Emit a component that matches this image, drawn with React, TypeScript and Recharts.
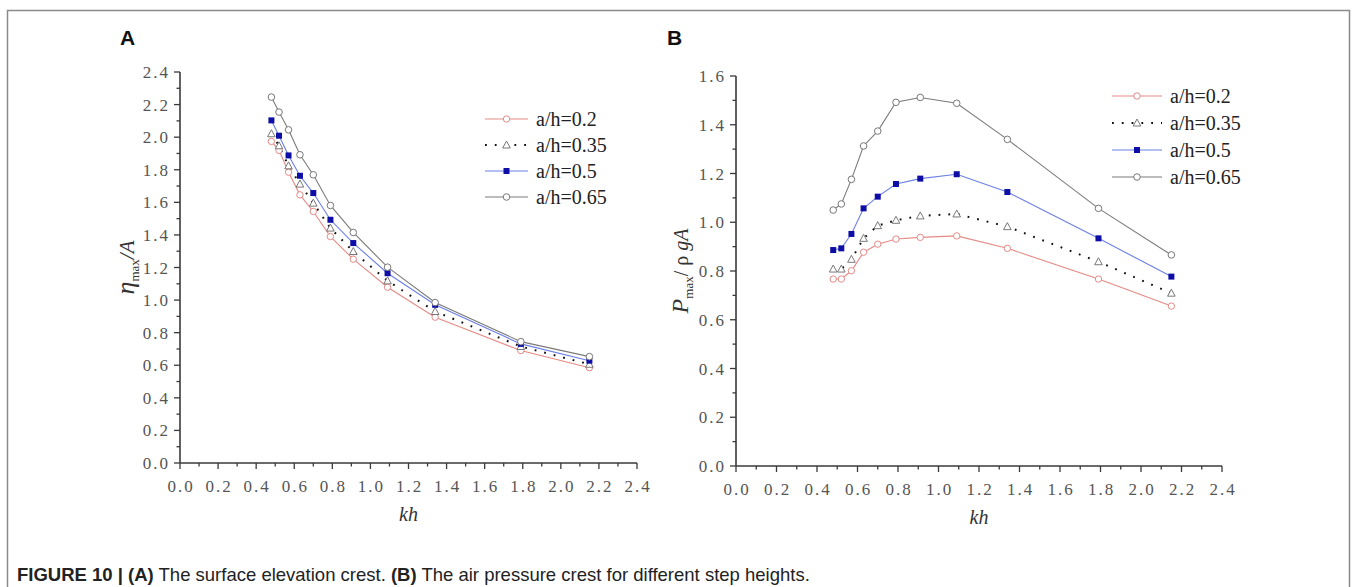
import React from 'react';
import { LineChart, Line, XAxis, YAxis } from 'recharts';

// kh values shared by both panels
const kh = [0.48, 0.52, 0.57, 0.63, 0.7, 0.79, 0.91, 1.09, 1.34, 1.79, 2.15];

// (A) eta_max / A
const etaH020 = [1.974, 1.919, 1.785, 1.646, 1.544, 1.39, 1.251, 1.079, 0.895, 0.69, 0.585];
const etaH035 = [2.021, 1.947, 1.824, 1.712, 1.595, 1.442, 1.298, 1.118, 0.93, 0.715, 0.606];
const etaH050 = [2.103, 2.009, 1.888, 1.763, 1.657, 1.493, 1.35, 1.165, 0.971, 0.731, 0.628];
const etaH065 = [2.246, 2.154, 2.045, 1.892, 1.769, 1.581, 1.415, 1.202, 0.985, 0.745, 0.653];

// (B) P_max / rho g A
const presH020 = [0.767, 0.767, 0.801, 0.877, 0.91, 0.931, 0.938, 0.944, 0.893, 0.767, 0.656];
const presH035 = [0.808, 0.808, 0.848, 0.934, 0.986, 1.008, 1.026, 1.034, 0.982, 0.838, 0.709];
const presH050 = [0.886, 0.893, 0.952, 1.057, 1.105, 1.157, 1.179, 1.197, 1.124, 0.934, 0.777];
const presH065 = [1.05, 1.075, 1.176, 1.313, 1.374, 1.492, 1.512, 1.488, 1.34, 1.057, 0.866];

const seriesNames = ['a/h=0.2', 'a/h=0.35', 'a/h=0.5', 'a/h=0.65'];
const seriesKeys = ['h020', 'h035', 'h050', 'h065'];

const xTicks = [0, 0.1, 0.2, 0.3, 0.4, 0.5, 0.6, 0.7, 0.8, 0.9, 1.0, 1.1, 1.2, 1.3, 1.4, 1.5, 1.6, 1.7, 1.8, 1.9, 2.0, 2.1, 2.2, 2.3, 2.4];
const yTicksA = [0, 0.1, 0.2, 0.3, 0.4, 0.5, 0.6, 0.7, 0.8, 0.9, 1.0, 1.1, 1.2, 1.3, 1.4, 1.5, 1.6, 1.7, 1.8, 1.9, 2.0, 2.1, 2.2, 2.3, 2.4];
const yTicksB = [0, 0.1, 0.2, 0.3, 0.4, 0.5, 0.6, 0.7, 0.8, 0.9, 1.0, 1.1, 1.2, 1.3, 1.4, 1.5, 1.6];

const etaRows = kh.map((k, i) => ({ kh: k, h020: etaH020[i], h035: etaH035[i], h050: etaH050[i], h065: etaH065[i] }));
const presRows = kh.map((k, i) => ({ kh: k, h020: presH020[i], h035: presH035[i], h050: presH050[i], h065: presH065[i] }));

const SERIF = '"Liberation Serif", "DejaVu Serif", serif';
const SANS = '"Liberation Sans", Arial, sans-serif';
const AXIS = '#3a3a3a';
const TICK_TEXT = '#555';

const lineStyles = [
  { stroke: '#e58a86', dash: undefined, width: 1.1 },
  { stroke: '#111', dash: '1.8 8', width: 2 },
  { stroke: '#6b7fe6', dash: undefined, width: 1.1 },
  { stroke: '#7b7b7b', dash: undefined, width: 1.1 },
];

function Marker({ kind, cx, cy }: { kind: number; cx: number; cy: number }) {
  if (kind === 0) return <circle cx={cx} cy={cy} r={3.2} fill="#fff" stroke="#e58a86" strokeWidth={1} />;
  if (kind === 1)
    return (
      <polygon
        points={`${cx},${cy - 4} ${cx - 3.8},${cy + 3} ${cx + 3.8},${cy + 3}`}
        fill="#fff"
        stroke="#6a6a6a"
        strokeWidth={0.9}
      />
    );
  if (kind === 2) return <rect x={cx - 3} y={cy - 3} width={6} height={6} fill="#0e0ea6" />;
  return <circle cx={cx} cy={cy} r={3.3} fill="#fff" stroke="#777" strokeWidth={1} />;
}

const dotFor = (kind: number) => (p: any) => (
  <g key={`d-${kind}-${p.index}`}>
    <Marker kind={kind} cx={p.cx} cy={p.cy} />
  </g>
);

const isMajor = (v: number) => Math.round(v * 10) % 2 === 0;

function XTick(props: any) {
  const { x, y, payload } = props;
  const major = isMajor(payload.value);
  return (
    <g>
      <line x1={x} y1={y} x2={x} y2={y + (major ? 6 : 3.5)} stroke={AXIS} strokeWidth={1.3} />
      {major && (
        <text x={x + 1} y={y + 29} textAnchor="middle" fontFamily={SERIF} fontSize={17} fill={TICK_TEXT} letterSpacing={2}>
          {payload.value.toFixed(1)}
        </text>
      )}
    </g>
  );
}

function YTick(props: any) {
  const { x, y, payload } = props;
  const major = isMajor(payload.value);
  return (
    <g>
      <line x1={x} y1={y} x2={x - (major ? 6 : 3.5)} y2={y} stroke={AXIS} strokeWidth={1.3} />
      {major && (
        <text x={x - 10} y={y + 6} textAnchor="end" fontFamily={SERIF} fontSize={17} fill={TICK_TEXT} letterSpacing={2}>
          {payload.value.toFixed(1)}
        </text>
      )}
    </g>
  );
}

function KhLabel(props: any) {
  const vb = props.viewBox;
  return (
    <text x={vb.x + vb.width / 2} y={vb.y + 58} textAnchor="middle" fontFamily={SERIF} fontStyle="italic" fontSize={20} fill="#333">
      kh
    </text>
  );
}

function EtaLabel(props: any) {
  const vb = props.viewBox;
  const cx = vb.x + vb.width - 54;
  const cy = vb.y + vb.height / 2;
  return (
    <text transform={`translate(${cx},${cy}) rotate(-90)`} textAnchor="middle" fontFamily={SERIF} fill="#333" dy={8}>
      <tspan fontStyle="italic" fontSize={26}>η</tspan>
      <tspan fontSize={13} dy={5}>max</tspan>
      <tspan fontStyle="italic" fontSize={21} dy={-5}>/A</tspan>
    </text>
  );
}

function PresLabel(props: any) {
  const vb = props.viewBox;
  const cx = vb.x + vb.width - 56;
  const cy = vb.y + vb.height / 2;
  return (
    <text transform={`translate(${cx},${cy}) rotate(-90)`} textAnchor="middle" fontFamily={SERIF} fill="#333" dy={8}>
      <tspan fontStyle="italic" fontSize={24}>P</tspan>
      <tspan fontSize={13} dy={5}>max</tspan>
      <tspan fontSize={20} dy={-5}>/ ρ </tspan>
      <tspan fontStyle="italic" fontSize={20}>gA</tspan>
    </text>
  );
}

function Panel({ rows, yMax, yTicks, yLabel, left, width, margin }: any) {
  return (
    <div style={{ position: 'absolute', left, top: 0 }}>
      <LineChart width={width} height={587} data={rows} margin={margin}>
        <XAxis
          type="number"
          dataKey="kh"
          domain={[0, 2.4]}
          ticks={xTicks}
          interval={0}
          tickSize={0}
          tickMargin={0}
          tickLine={false}
          height={80}
          axisLine={{ stroke: AXIS, strokeWidth: 1.6 }}
          tick={(p: any) => <XTick {...p} />}
          label={{ content: KhLabel }}
        />
        <YAxis
          type="number"
          domain={[0, yMax]}
          ticks={yTicks}
          interval={0}
          tickSize={0}
          tickMargin={0}
          tickLine={false}
          width={80}
          axisLine={{ stroke: AXIS, strokeWidth: 1.6 }}
          tick={(p: any) => <YTick {...p} />}
          label={{ content: yLabel }}
        />
        {seriesKeys.map((k, i) => (
          <Line
            key={k}
            type="linear"
            dataKey={k}
            name={seriesNames[i]}
            stroke={lineStyles[i].stroke}
            strokeWidth={lineStyles[i].width}
            strokeDasharray={lineStyles[i].dash}
            dot={dotFor(i)}
            activeDot={false}
            isAnimationActive={false}
          />
        ))}
      </LineChart>
    </div>
  );
}

function LegendBox({ x, y, gap, lineLen }: { x: number; y: number; gap: number; lineLen: number }) {
  return (
    <g>
      {seriesNames.map((name, i) => {
        const cy = y + i * gap;
        const st = lineStyles[i];
        return (
          <g key={name}>
            <line
              x1={x}
              y1={cy}
              x2={x + lineLen}
              y2={cy}
              stroke={st.stroke}
              strokeWidth={st.width}
              strokeDasharray={st.dash}
            />
            <Marker kind={i} cx={x + lineLen / 2} cy={cy} />
            <text x={x + lineLen + 8} y={cy + 7} fontFamily={SERIF} fontSize={20} fill="#222">
              {name}
            </text>
          </g>
        );
      })}
    </g>
  );
}

export default function App() {
  return (
    <div style={{ position: 'absolute', left: 0, top: 0, width: 1357, height: 587, background: '#fff', overflow: 'hidden' }}>
      <Panel
        rows={etaRows}
        yMax={2.4}
        yTicks={yTicksA}
        yLabel={EtaLabel}
        left={0}
        width={700}
        margin={{ top: 72, right: 63, bottom: 587 - 463 - 80, left: 100 }}
      />
      <Panel
        rows={presRows}
        yMax={1.6}
        yTicks={yTicksB}
        yLabel={PresLabel}
        left={650}
        width={707}
        margin={{ top: 76, right: 135, bottom: 587 - 466 - 80, left: 6 }}
      />
      <svg width={1357} height={587} style={{ position: 'absolute', left: 0, top: 0, pointerEvents: 'none' }}>
        <rect x={7.5} y={10.5} width={1342} height={600} fill="none" stroke="#8a8a8a" strokeWidth={1.5} />
        <text x={120} y={45} fontFamily={SANS} fontWeight="bold" fontSize={21} fill="#111">A</text>
        <text x={667} y={45} fontFamily={SANS} fontWeight="bold" fontSize={21} fill="#111">B</text>
        <LegendBox x={485} y={119} gap={26} lineLen={43} />
        <LegendBox x={1112} y={96} gap={27} lineLen={50} />
        <text x={17} y={581} fontFamily={SANS} fontSize={18.5} fill="#222">
          <tspan fontWeight="bold">FIGURE 10 | (A)</tspan>
          <tspan> The surface elevation crest. </tspan>
          <tspan fontWeight="bold">(B)</tspan>
          <tspan> The air pressure crest for different step heights.</tspan>
        </text>
      </svg>
    </div>
  );
}
